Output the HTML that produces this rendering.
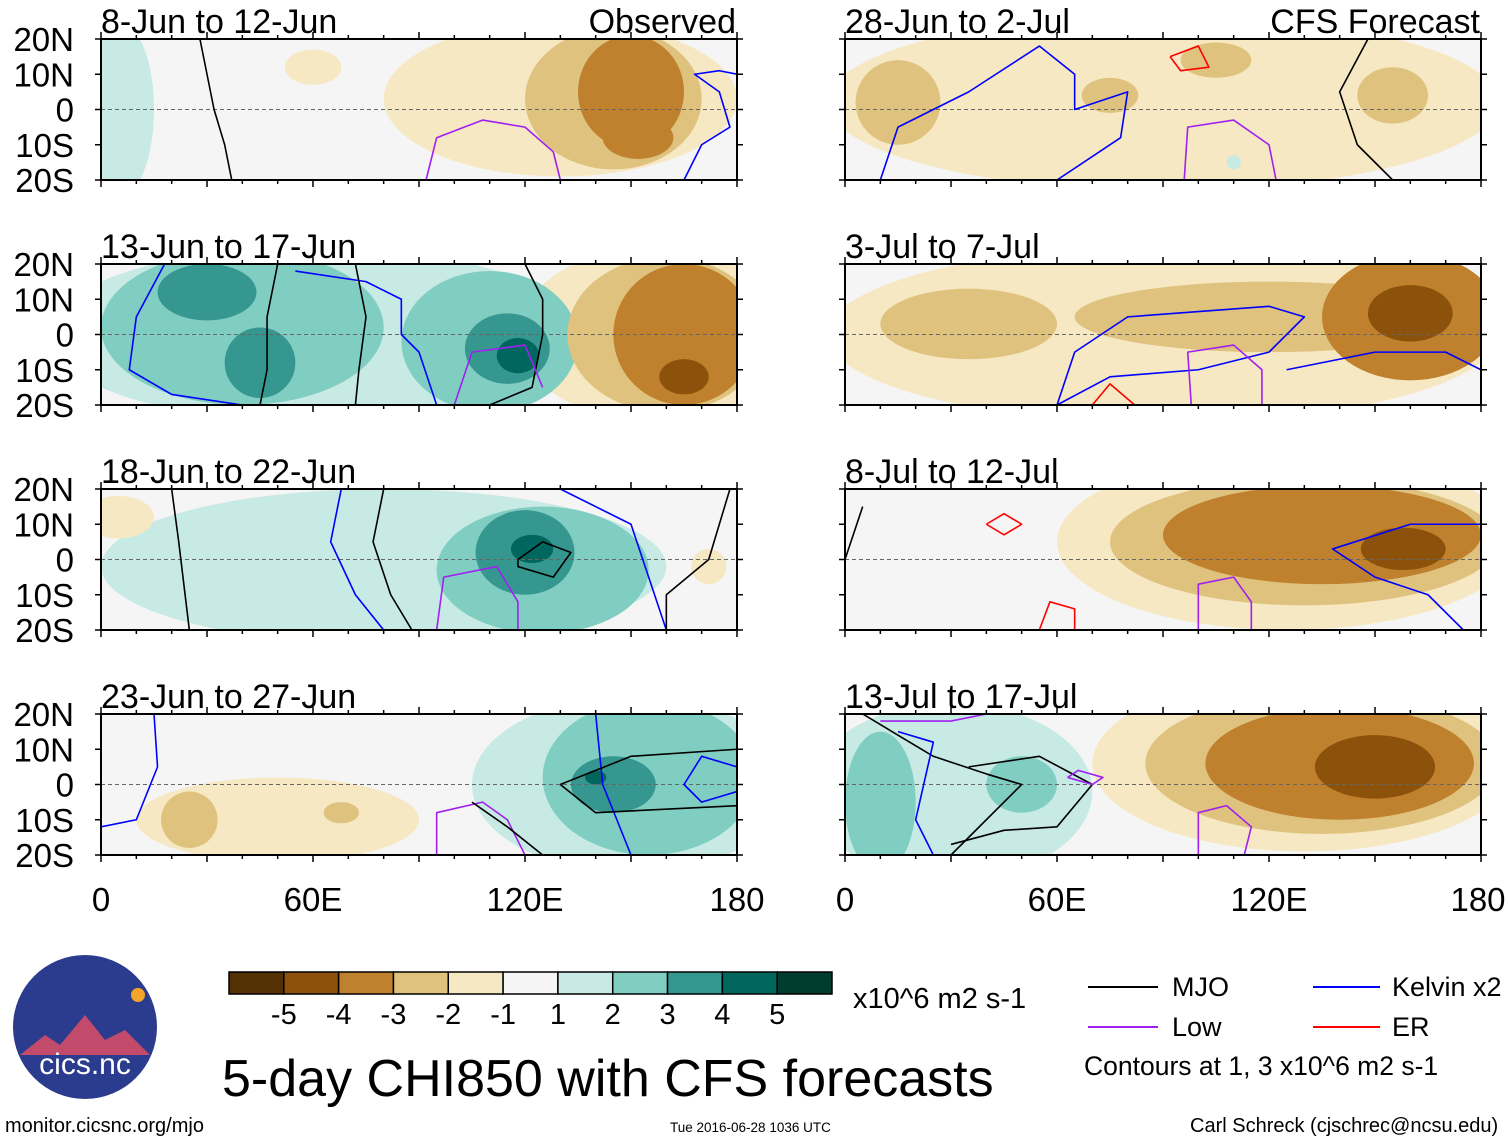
<!DOCTYPE html>
<html><head><meta charset="utf-8"><style>
body{margin:0;background:#fff;}
svg text{font-family:"Liberation Sans",Arial,sans-serif;fill:#000;}
</style></head><body>
<svg id="fig" width="1510" height="1142" viewBox="0 0 1510 1142" xmlns="http://www.w3.org/2000/svg">
<g id="panels"></g>
<g font-size="33">
<text x="101" y="911" text-anchor="middle">0</text><text x="313" y="911" text-anchor="middle">60E</text><text x="525" y="911" text-anchor="middle">120E</text><text x="737" y="911" text-anchor="middle">180</text>
<text x="845" y="911" text-anchor="middle">0</text><text x="1057" y="911" text-anchor="middle">60E</text><text x="1269" y="911" text-anchor="middle">120E</text><text x="1478" y="911" text-anchor="middle">180</text>
</g>
<g id="colorbar"></g>
<text x="853" y="1008" font-size="29">x10^6 m2 s-1</text>
<g font-size="27">
<line x1="1088" y1="987" x2="1158" y2="987" stroke="#000" stroke-width="2"/><text x="1172" y="996">MJO</text>
<line x1="1313" y1="987" x2="1380" y2="987" stroke="#0000ff" stroke-width="2"/><text x="1392" y="996">Kelvin x2</text>
<line x1="1088" y1="1027" x2="1158" y2="1027" stroke="#a020f0" stroke-width="2"/><text x="1172" y="1036">Low</text>
<line x1="1313" y1="1027" x2="1380" y2="1027" stroke="#ff0000" stroke-width="2"/><text x="1392" y="1036">ER</text>
<text x="1084" y="1075" font-size="26.5">Contours at 1, 3 x10^6 m2 s-1</text>
</g>
<text x="222" y="1096" font-size="52">5-day CHI850 with CFS forecasts</text>
<g>
<circle cx="85" cy="1027" r="72" fill="#2b3c8f"/>
<path d="M20 1055 L45 1035 L60 1045 L85 1015 L105 1040 L125 1030 L150 1055 Z" fill="#c24a6a"/>
<circle cx="138" cy="995" r="7" fill="#f2a52a"/>
<text x="85" y="1074" font-size="30" text-anchor="middle" style="fill:#fff">cics.nc</text>
</g>
<text x="5" y="1132" font-size="20">monitor.cicsnc.org/mjo</text>
<text x="670" y="1132" font-size="13.5">Tue 2016-06-28 1036 UTC</text>
<text x="1190" y="1132" font-size="20">Carl Schreck (cjschrec@ncsu.edu)</text>
</svg>
<script>
const levels=[-5,-4,-3,-2,-1,1,2,3,4,5];
const levelLabels=["-5","-4","-3","-2","-1","1","2","3","4","5"];
const colors=["#543005","#8c510a","#bf812d","#dfc27d","#f6e8c3","#f5f5f5","#c7eae5","#80cdc1","#35978f","#01665e","#003c30"];
const titles=["8-Jun to 12-Jun","13-Jun to 17-Jun","18-Jun to 22-Jun","23-Jun to 27-Jun","28-Jun to 2-Jul","3-Jul to 7-Jul","8-Jul to 12-Jul","13-Jul to 17-Jul"];
const yTickLabels=["20N","10N","0","10S","20S"];
const yTickLats=[20,10,0,-10,-20];
// anomaly blobs: [lon, lat, halfwidth deg, halfheight deg, bin index 0..10]
const blobs=[
 [[5,0,10,25,6],[60,12,8,5,4],[130,3,50,22,4],[145,3,25,20,3],[150,5,15,16,2],[152,-8,10,6,2],[148,14,8,6,2]],
 [[60,0,75,25,6],[40,2,40,22,7],[110,-2,25,20,7],[30,12,14,8,8],[45,-8,10,10,8],[115,-4,12,10,8],[118,-6,6,5,9],[158,0,40,25,4],[160,0,28,22,3],[165,0,20,20,2],[165,-12,7,5,1]],
 [[80,-2,80,22,6],[125,-3,30,18,7],[120,2,14,12,8],[122,3,6,4,9],[5,12,10,6,4],[172,-2,5,5,4]],
 [[50,-10,40,12,4],[25,-10,8,8,3],[68,-8,5,3,3],[150,0,45,25,6],[155,2,30,22,7],[145,0,12,8,8],[140,2,3,2,9]],
 [[90,2,95,25,4],[15,2,12,12,3],[75,4,8,5,3],[155,4,10,8,3],[105,14,10,5,3],[110,-15,2,2,6]],
 [[90,0,95,25,4],[35,3,25,10,3],[120,5,55,10,3],[160,5,25,18,2],[160,6,12,8,1]],
 [[125,5,65,25,4],[130,5,55,18,3],[135,7,45,14,2],[158,3,12,6,1]],
 [[30,-2,40,25,6],[10,-5,10,20,7],[50,0,10,8,7],[130,6,60,25,4],[135,6,50,20,3],[140,6,38,16,2],[150,5,17,9,1]]
];
// contours: [color, [[lon,lat],...]]
const contours=[
 [["#000",[[28,20],[30,10],[32,0],[35,-10],[37,-20]]],["#00f",[[165,-20],[170,-10],[178,-5],[175,5],[168,10],[175,11],[180,10]]],["#a020f0",[[92,-20],[95,-8],[108,-3],[120,-5],[128,-12],[130,-20]]]],
 [["#00f",[[18,20],[10,5],[8,-10],[20,-17],[40,-20]]],["#000",[[50,20],[47,5],[47,-10],[45,-20]]],["#00f",[[55,18],[75,15],[85,10],[85,0],[90,-5],[95,-20]]],["#000",[[72,20],[75,5],[73,-10],[72,-20]]],["#000",[[120,20],[125,10],[125,0],[122,-15],[110,-20]]],["#a020f0",[[100,-20],[105,-5],[120,-3],[125,-15]]]],
 [["#000",[[20,20],[22,5],[25,-20]]],["#00f",[[68,20],[65,5],[72,-10],[80,-20]]],["#000",[[80,20],[77,5],[82,-10],[88,-20]]],["#000",[[118,0],[125,5],[133,2],[128,-5],[118,-2],[118,0]]],["#00f",[[130,20],[150,10],[155,-5],[160,-20]]],["#a020f0",[[95,-20],[97,-5],[112,-2],[118,-12],[118,-20]]],["#000",[[178,20],[172,0],[160,-10],[160,-20]]]],
 [["#00f",[[15,20],[16,5],[10,-10],[0,-12]]],["#a020f0",[[95,-20],[95,-8],[108,-5],[115,-10],[120,-20]]],["#000",[[105,-5],[115,-12],[125,-20]]],["#00f",[[140,20],[142,0],[150,-20]]],["#000",[[130,0],[150,8],[180,10]]],["#000",[[130,0],[140,-8],[180,-6]]],["#00f",[[180,5],[170,8],[165,0],[170,-5],[180,-2]]]],
 [["#00f",[[10,-20],[15,-5],[35,5],[55,18],[65,10],[65,0],[80,5],[78,-8],[60,-20]]],["#f00",[[92,15],[100,18],[103,12],[95,11],[92,15]]],["#000",[[148,20],[140,5],[145,-10],[155,-20]]],["#a020f0",[[96,-20],[97,-5],[110,-3],[120,-10],[122,-20]]]],
 [["#00f",[[60,-20],[65,-5],[80,5],[120,8],[130,5],[120,-5],[100,-10],[75,-12],[60,-20]]],["#f00",[[70,-20],[75,-14],[82,-20]]],["#a020f0",[[98,-20],[97,-5],[110,-3],[118,-10],[118,-20]]],["#00f",[[125,-10],[150,-5],[170,-5],[180,-10]]]],
 [["#f00",[[40,10],[45,13],[50,10],[45,7],[40,10]]],["#f00",[[55,-20],[58,-12],[65,-14],[65,-20]]],["#a020f0",[[100,-20],[100,-7],[110,-5],[115,-12],[115,-20]]],["#00f",[[180,10],[160,10],[138,3],[150,-5],[165,-10],[175,-20]]],["#000",[[0,0],[5,15]]]],
 [["#000",[[5,20],[25,8],[40,3],[50,0],[35,-15],[30,-20]]],["#000",[[35,5],[55,8],[70,0],[60,-12],[45,-13],[30,-17]]],["#a020f0",[[10,18],[30,18],[40,20]]],["#00f",[[15,15],[25,12],[20,-10],[25,-20]]],["#a020f0",[[63,2],[70,0],[73,2],[66,4],[63,2]]],["#a020f0",[[100,-20],[100,-8],[108,-6],[115,-12],[113,-20]]]]
];
const NS="http://www.w3.org/2000/svg";
const lefts=[101,845], tops=[39,264,489,714], W=636, H=141;
function el(tag,attrs,parent){const e=document.createElementNS(NS,tag);for(const k in attrs)e.setAttribute(k,attrs[k]);parent.appendChild(e);return e;}
const root=document.getElementById('panels');
for(let p=0;p<8;p++){
 const col=p<4?0:1,row=p%4,x0=lefts[col],y0=tops[row];
 const xs=lon=>x0+lon/180*W, ys=lat=>y0+(20-lat)/40*H;
 const g=el('g',{},root);
 
 
 const cid='clip'+p;
 const cp=el('clipPath',{id:cid},g);el('rect',{x:x0,y:y0,width:W,height:H},cp);
 el('rect',{x:x0,y:y0,width:W,height:H,fill:colors[5]},g);
 const inner=el('g',{'clip-path':'url(#'+cid+')'},g);
 const bl=blobs[p].slice().sort((a,b)=>Math.abs(a[4]-5)-Math.abs(b[4]-5));
 bl.forEach(b=>{const e=el('ellipse',{cx:xs(b[0]),cy:ys(b[1]),rx:b[2]/180*W,ry:b[3]/40*H,fill:colors[b[4]]},inner);
  
  });
 el('line',{x1:x0,x2:x0+W,y1:ys(0),y2:ys(0),stroke:'#666','stroke-dasharray':'4,3','stroke-width':1},inner);
 contours[p].forEach(c=>{if(!c[1]||c[1].length<2)return;
  const pl=el('polyline',{points:c[1].map(q=>xs(q[0])+','+ys(q[1])).join(' '),fill:'none',stroke:c[0],'stroke-width':1.6,'stroke-linejoin':'round'},inner);
  
  });
 el('rect',{x:x0,y:y0,width:W,height:H,fill:'none',stroke:'#000','stroke-width':2},g);
 for(let lon=0;lon<=180;lon+=10){const len=lon%30===0?7:4;
  el('line',{x1:xs(lon),x2:xs(lon),y1:y0,y2:y0-len,stroke:'#000','stroke-width':1.5},g);
  el('line',{x1:xs(lon),x2:xs(lon),y1:y0+H,y2:y0+H+len,stroke:'#000','stroke-width':1.5},g);}
 yTickLats.forEach(lat=>{el('line',{x1:x0-6,x2:x0,y1:ys(lat),y2:ys(lat),stroke:'#000','stroke-width':1.5},g);
  el('line',{x1:x0+W,x2:x0+W+6,y1:ys(lat),y2:ys(lat),stroke:'#000','stroke-width':1.5},g);});
 if(col===0){yTickLabels.forEach((t,i)=>{const tx=el('text',{x:74,y:ys(yTickLats[i])+12,'font-size':33,'text-anchor':'end'},g);tx.textContent=t;});}
 const tt=el('text',{x:x0,y:y0-6,'font-size':34},g);tt.textContent=titles[p];
 
 
 if(row===0){const lab=el('text',{x:x0+W-1,y:y0-6,'font-size':34,'text-anchor':'end'},g);lab.textContent=col===0?'Observed':'CFS Forecast';}
}
const cb=document.getElementById('colorbar');
const cbx=229,cbw=603,cby=972,cbh=22,bw=cbw/11;
colors.forEach((c,i)=>{const r=el('rect',{x:cbx+i*bw,y:cby,width:bw,height:cbh,fill:c,stroke:'#000','stroke-width':1.5},cb);
 
 });
levelLabels.forEach((t,i)=>{const tx=el('text',{x:cbx+(i+1)*bw,y:1024,'font-size':29,'text-anchor':'middle'},cb);tx.textContent=t;});
</script>
</body></html>
